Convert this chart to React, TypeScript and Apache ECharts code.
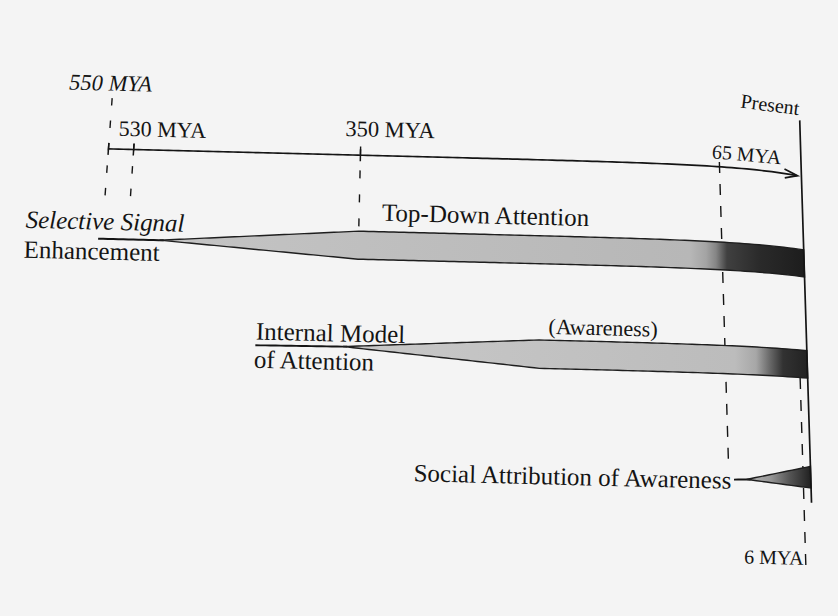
import React, { useEffect, useRef } from "react";
import * as echarts from "echarts";

// ---------------- data ----------------
const eventLabels = ["550 MYA", "530 MYA", "350 MYA", "65 MYA", "6 MYA"];
const eventMya = [550, 530, 350, 65, 6];
const presentLabel = "Present";
const presentMya = 0;

const lineageOriginLine1 = ["Selective Signal", "Internal Model", "Social Attribution of Awareness"];
const lineageOriginLine2 = ["Enhancement", "of Attention", ""];
const lineageLaterNames = ["Top-Down Attention", "(Awareness)", ""];
const lineageLineStartMya = [553, 427, 61];
const lineageTipMya = [505, 360, 51];
const lineageFullMya = [350, 210, 0];

// ---------------- layout / style (not data) ----------------
const FONT = '"Liberation Serif", "Times New Roman", serif';
const INK = "#141414";
const AXIS_Y = 148.8;
const PRESENT_Y0 = 92.7;
const PRESENT_Y1 = 485.4;

const guideLayout = [
  { y0: 98, y1: 200, dash: [7.5, 15], tick: true },
  { y0: 143, y1: 200, dash: [7.5, 15], tick: true },
  { y0: 140, y1: 222, dash: [8, 16], tick: true },
  { y0: 144, y1: 444, dash: [11, 11], tick: false },
  { y0: 358, y1: 548, dash: [11, 11], tick: false },
];

const rowLayout = [
  {
    lineY: 238.7, tipY: 238.7, cy: 238.8, half: 14,
    stops: [[0, "#c4c4c4"], [690, "#b7b7b7"], [706, "#a4a4a4"], [716, "#858585"], [727, "#404040"], [760, "#2a2a2a"], [9999, "#1d1d1d"]],
  },
  {
    lineY: 341.3, tipY: 340.5, cy: 343.3, half: 14.2,
    stops: [[0, "#c8c8c8"], [735, "#bcbcbc"], [756, "#a7a7a7"], [770, "#686868"], [783, "#323232"], [9999, "#222222"]],
  },
  {
    lineY: 464.1, tipY: 463.6, cy: 459.8, half: 10.8,
    stops: [[0, "#b2b2b2"], [770, "#989898"], [790, "#545454"], [9999, "#212121"]],
  },
];

const eventLabelLayout = [
  { dx: -2.6, base: 93, align: "center", size: 22.5, italic: true },
  { dx: -16.4, base: 137.7, align: "left", size: 22, italic: false },
  { dx: -15.7, base: 132.3, align: "left", size: 22.5, italic: false },
  { dx: -7, base: 142.5, align: "left", size: 20, italic: false },
  { dx: -2, base: 549.5, align: "right", size: 20, italic: false },
];

type TextItem = { text: string; m: number; dx: number; base: number; align: string; size: number; italic: boolean };

const textItems: TextItem[] = [
  ...eventLabels.map((t, i) => ({ text: t, m: eventMya[i], ...eventLabelLayout[i] })),
  { text: presentLabel, m: presentMya, dx: 0, base: 89.3, align: "right", size: 20, italic: false },
  { text: lineageOriginLine1[0], m: lineageLineStartMya[0], dx: -73.8, base: 232, align: "left", size: 25, italic: true },
  { text: lineageOriginLine2[0], m: lineageLineStartMya[0], dx: -73.6, base: 262, align: "left", size: 25, italic: false },
  { text: lineageLaterNames[0], m: lineageFullMya[0], dx: 22.6, base: 216.4, align: "left", size: 25, italic: false },
  { text: lineageOriginLine1[1], m: lineageLineStartMya[1], dx: 0, base: 338, align: "left", size: 25, italic: false },
  { text: lineageOriginLine2[1], m: lineageLineStartMya[1], dx: -0.8, base: 366.3, align: "left", size: 25, italic: false },
  { text: lineageLaterNames[1], m: lineageFullMya[1], dx: 9.3, base: 324.9, align: "left", size: 22, italic: false },
  { text: lineageOriginLine1[2], m: lineageLineStartMya[2], dx: -2.7, base: 475.9, align: "right", size: 25, italic: false },
];

// page warp of the scanned figure (slight skew + curl near the right edge)
function warp(x: number, y: number): [number, number] {
  const a = Math.max(-0.073, Math.min(0.03, -0.073 + 0.0002 * (x - 108)));
  const h = Math.max(0, Math.min(1, (450 - y) / 300));
  const curl = 10 * Math.exp((x - 800) / 60) * h;
  return [x + a * (y - 150), y + 0.025 * (x - 105) + curl];
}

function densify(pts: number[][], step = 5): number[][] {
  const out: number[][] = [];
  for (let i = 0; i < pts.length - 1; i++) {
    const [x0, y0] = pts[i];
    const [x1, y1] = pts[i + 1];
    const n = Math.max(1, Math.ceil(Math.hypot(x1 - x0, y1 - y0) / step));
    for (let k = 0; k < n; k++) {
      const t = k / n;
      out.push([x0 + (x1 - x0) * t, y0 + (y1 - y0) * t]);
    }
  }
  out.push(pts[pts.length - 1]);
  return out;
}
const warpPts = (pts: number[][]) => densify(pts).map(([x, y]) => warp(x, y));

export default function App() {
  const ref = useRef<HTMLDivElement>(null);

  useEffect(() => {
    document.body.style.margin = "0";
    const chart = echarts.init(ref.current!, null, { renderer: "svg" });

    const guideSeries: any = {
      type: "custom",
      coordinateSystem: "cartesian2d",
      data: eventMya.map((m, i) => [m, i]),
      z: 1,
      renderItem: (params: any, api: any) => {
        const i = params.dataIndex;
        const g = guideLayout[i];
        const x = api.coord([api.value(0), 0])[0];
        const children: any[] = [
          {
            type: "polyline",
            shape: { points: warpPts([[x, g.y0], [x, g.y1]]) },
            style: { stroke: INK, lineWidth: 1.4, lineDash: g.dash, fill: null },
          },
        ];
        if (g.tick) {
          children.push({
            type: "polyline",
            shape: { points: warpPts([[x, AXIS_Y - 6], [x, AXIS_Y + 6]]) },
            style: { stroke: INK, lineWidth: 1.5, fill: null },
          });
        }
        return { type: "group", children };
      },
    };

    const axisSeries: any = {
      type: "custom",
      coordinateSystem: "cartesian2d",
      data: [[eventMya[0], presentMya]],
      z: 3,
      renderItem: (params: any, api: any) => {
        const x0 = api.coord([api.value(0), 0])[0];
        const xe = api.coord([api.value(1), 0])[0];
        const tip = xe - 3.8;
        return {
          type: "group",
          children: [
            {
              type: "polyline",
              shape: { points: warpPts([[x0, AXIS_Y], [tip - 1, AXIS_Y]]) },
              style: { stroke: INK, lineWidth: 1.7, fill: null },
            },
            {
              type: "polyline",
              shape: { points: warpPts([[tip - 13, AXIS_Y - 4.5], [tip, AXIS_Y], [tip - 13, AXIS_Y + 4.5]]) },
              style: { stroke: INK, lineWidth: 1.7, fill: null, lineJoin: "miter" },
            },
            {
              type: "polyline",
              shape: { points: warpPts([[xe, PRESENT_Y0], [xe, PRESENT_Y1]]) },
              style: { stroke: INK, lineWidth: 1.7, fill: null },
            },
          ],
        };
      },
    };

    const lineageSeries: any = {
      type: "custom",
      coordinateSystem: "cartesian2d",
      data: lineageTipMya.map((m, i) => [lineageLineStartMya[i], m, lineageFullMya[i]]),
      z: 2,
      renderItem: (params: any, api: any) => {
        const i = params.dataIndex;
        const L = rowLayout[i];
        const xs = api.coord([api.value(0), 0])[0];
        const xt = api.coord([api.value(1), 0])[0];
        const xf = api.coord([api.value(2), 0])[0];
        const xe = api.coord([presentMya, 0])[0];
        const poly = warpPts([
          [xt, L.tipY],
          [xf, L.cy - L.half],
          [xe, L.cy - L.half],
          [xe, L.cy + L.half],
          [xf, L.cy + L.half],
          [xt, L.tipY],
        ]);
        const gx0 = warp(xt, L.tipY)[0];
        const gx1 = warp(xe, L.cy)[0];
        const stops = L.stops.map(([px, c]) => {
          const p = px as number;
          const off = p === 0 ? 0 : p >= 9999 ? 1 : Math.max(0, Math.min(1, (p - gx0) / (gx1 - gx0)));
          return { offset: off, color: c as string };
        });
        const grad = new echarts.graphic.LinearGradient(gx0, 0, gx1, 0, stops, true);
        return {
          type: "group",
          children: [
            {
              type: "polyline",
              shape: { points: warpPts([[xs, L.lineY], [xt + 4, L.tipY]]) },
              style: { stroke: INK, lineWidth: 1.9, fill: null },
            },
            {
              type: "polygon",
              shape: { points: poly },
              style: { fill: grad, stroke: "#1e1e1e", lineWidth: 1.4 },
            },
          ],
        };
      },
    };

    const textSeries: any = {
      type: "custom",
      coordinateSystem: "cartesian2d",
      data: textItems.map((t, i) => [t.m, i]),
      z: 4,
      renderItem: (params: any, api: any) => {
        const t = textItems[params.dataIndex];
        const ax = api.coord([api.value(0), 0])[0];
        const x = ax + t.dx;
        const ymid = t.base - 0.44 * t.size;
        const w = t.text.length * t.size * 0.45;
        const cx = t.align === "left" ? x + w / 2 : t.align === "right" ? x - w / 2 : x;
        const p1 = warp(cx - 20, ymid);
        const p2 = warp(cx + 20, ymid);
        const ang = Math.atan2(p2[1] - p1[1], p2[0] - p1[0]);
        const [wx, wy] = warp(x, ymid);
        return {
          type: "text",
          x: wx,
          y: wy,
          rotation: -ang,
          style: {
            text: t.text,
            fill: INK,
            fontSize: t.size,
            fontFamily: FONT,
            fontStyle: t.italic ? "italic" : "normal",
            align: t.align,
            verticalAlign: "middle",
          },
        };
      },
    };

    chart.setOption({
      animation: false,
      backgroundColor: "#f4f4f4",
      grid: { left: 0, right: 0, top: 0, bottom: 0, containLabel: false },
      xAxis: { type: "value", min: -29, max: 636, inverse: true, show: false },
      yAxis: { type: "value", min: 0, max: 616, inverse: true, show: false },
      series: [guideSeries, lineageSeries, axisSeries, textSeries],
    });

    return () => chart.dispose();
  }, []);

  return <div ref={ref} style={{ width: 838, height: 616 }} />;
}
